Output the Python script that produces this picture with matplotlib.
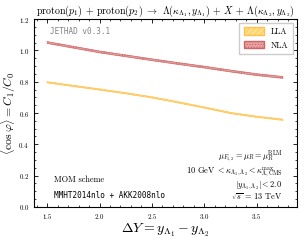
import numpy as np
import matplotlib
matplotlib.use('Agg')
import matplotlib.pyplot as plt
from matplotlib.ticker import MultipleLocator
from matplotlib.patches import Patch

plt.rcParams['font.family'] = 'serif'
plt.rcParams['font.serif'] = ['cmr10', 'DejaVu Serif']
plt.rcParams['mathtext.fontset'] = 'cm'
plt.rcParams['axes.formatter.use_mathtext'] = True
plt.rcParams['hatch.linewidth'] = 0.5

# Data
dy = [1.5, 1.75, 2.0, 2.25, 2.5, 2.75, 3.0, 3.25, 3.5, 3.75]
lla = [0.796, 0.773, 0.750, 0.726, 0.700, 0.668, 0.635, 0.600, 0.576, 0.557]
nla = [1.050, 1.020, 0.990, 0.965, 0.940, 0.916, 0.893, 0.868, 0.845, 0.827]
err_lla = 0.004
err_nla = 0.006

fig = plt.figure(figsize=(3.04, 2.47), dpi=100)
ax = fig.add_axes([0.112, 0.162, 0.865, 0.761])

lla = np.array(lla)
nla = np.array(nla)
ax.fill_between(dy, lla - err_lla, lla + err_lla, facecolor='#ffe08a', edgecolor='#ffc04d',
                hatch='//////', linewidth=0.5)
ax.fill_between(dy, nla - err_nla, nla + err_nla, facecolor='#e8a0a0', edgecolor='#cc6666',
                hatch='......', linewidth=0.5)

ax.set_xlim(1.375, 3.885)
ax.set_ylim(0.0, 1.2)
ax.xaxis.set_major_locator(MultipleLocator(0.5))
ax.xaxis.set_minor_locator(MultipleLocator(0.1))
ax.yaxis.set_major_locator(MultipleLocator(0.2))
ax.yaxis.set_minor_locator(MultipleLocator(0.05))
ax.tick_params(which='both', direction='in', top=True, right=True, labelsize=5)
ax.tick_params(which='major', length=3, width=0.6)
ax.tick_params(which='minor', length=1.5, width=0.5)
for s in ax.spines.values():
    s.set_linewidth(0.8)

ax.set_xlabel(r'$\Delta Y = y_{\Lambda_1} - y_{\Lambda_2}$', fontsize=10, labelpad=1)
ax.set_ylabel(r'$\langle \cos \varphi \rangle = C_1/C_0$', fontsize=8.5)
ax.yaxis.set_label_coords(-0.06, 0.5)
ax.set_title(r'proton$(p_1)$ + proton$(p_2)$ $\to$ $\Lambda(\kappa_{\Lambda_1}, y_{\Lambda_1})$ + $X$ + $\Lambda(\kappa_{\Lambda_2}, y_{\Lambda_2})$',
             fontsize=7.2, pad=3)

ax.text(0.06, 0.955, 'JETHAD v0.3.1', transform=ax.transAxes, fontsize=5.5,
        family='monospace', color='gray', va='top')
ax.text(0.075, 0.145, 'MOM scheme', transform=ax.transAxes, fontsize=6, va='center')
ax.text(0.075, 0.06, 'MMHT2014nlo + AKK2008nlo', transform=ax.transAxes, fontsize=5.5,
        family='monospace', va='center')
ax.text(0.945, 0.265, r'$\mu_{F_{1,2}} = \mu_R = \mu_R^{\rm BLM}$', transform=ax.transAxes,
        fontsize=6, ha='right', va='center')
ax.text(0.945, 0.183, r'$10$ GeV $< \kappa_{\Lambda_1,\Lambda_2} < \kappa_{\Lambda,\rm CMS}^{\rm max}$',
        transform=ax.transAxes, fontsize=6, ha='right', va='center')
ax.text(0.945, 0.113, r'$|y_{\Lambda_1,\Lambda_2}| < 2.0$', transform=ax.transAxes,
        fontsize=6, ha='right', va='center')
ax.text(0.945, 0.053, r'$\sqrt{s}$ = 13 TeV', transform=ax.transAxes,
        fontsize=6, ha='right', va='center')

handles = [Patch(facecolor='#ffe08a', edgecolor='#ffc04d', hatch='//////', label='LLA'),
           Patch(facecolor='#e8a0a0', edgecolor='#cc6666', hatch='......', label='NLA')]
ax.legend(handles=handles, loc='upper right', fontsize=6, handlelength=2.5,
          handleheight=1.0, borderpad=0.5, labelspacing=0.6, fancybox=False,
          framealpha=1, edgecolor='#cccccc')

fig.savefig('out.png', dpi=100)
